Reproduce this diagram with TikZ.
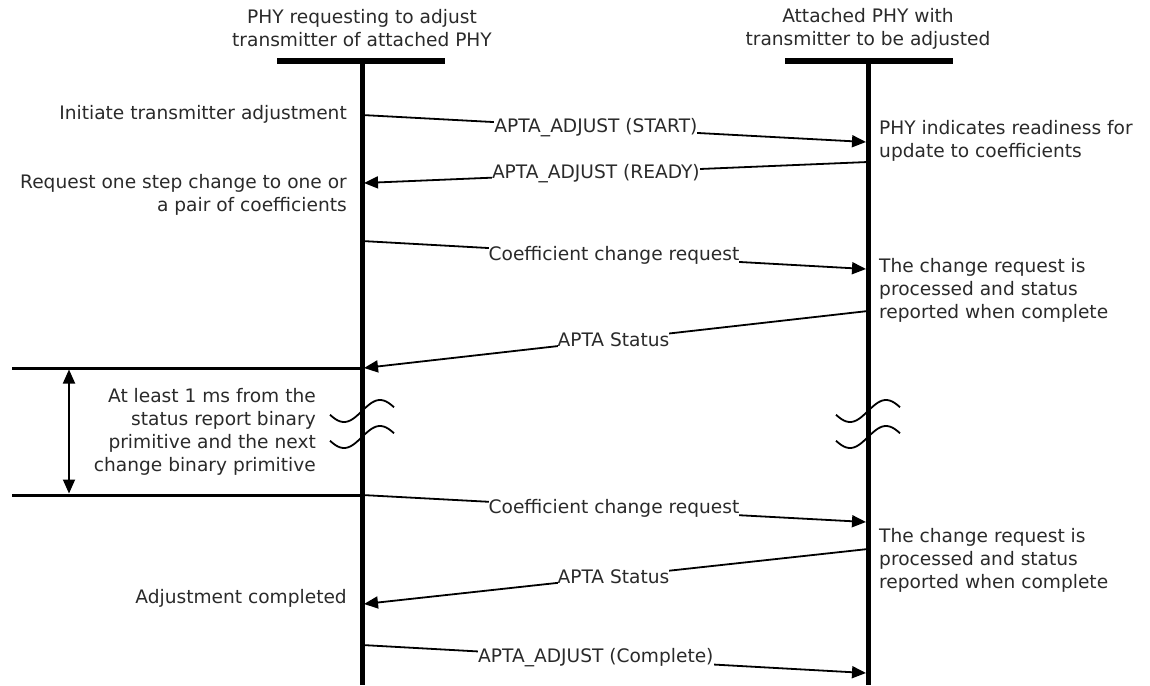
\documentclass[tikz,border=0pt]{standalone}
\usepackage{fontspec}
\setmainfont{DejaVu Sans}
\usetikzlibrary{arrows.meta}
\definecolor{txt}{HTML}{2A2A2A}
\begin{document}
\begin{tikzpicture}[x=1pt,y=-1pt,
  every node/.style={font=\fontsize{18.6}{23}\selectfont, text=txt},
  lifeline/.style={line width=5pt},
  headbar/.style={line width=6pt},
  msg/.style={line width=1.8pt, -{Triangle[length=14pt,width=12pt]}},
  lbl/.style={fill=white, inner xsep=0pt, inner ysep=1pt},
  leftnote/.style={anchor=east, align=right, inner sep=0pt},
  rightnote/.style={anchor=west, align=left, inner sep=0pt},
  brk/.style={line width=1.8pt},
  rule/.style={line width=3pt}]
\useasboundingbox (0,0) rectangle (1150,685);

% headings
\node[align=center, inner sep=0pt] (hdA) at (362,28.5) {PHY requesting to adjust\\transmitter of attached PHY};
\node[align=center, inner sep=0pt] (hdB) at (868,28.5) {Attached PHY with\\transmitter to be adjusted};

% lifelines with their head bars
\coordinate (Atop) at (362,61);
\coordinate (Abot) at (362,685);
\coordinate (Btop) at (868,61);
\coordinate (Bbot) at (868,685);
\draw[headbar] (277,61) -- (445,61);
\draw[headbar] (785,61) -- (953,61);
\draw[lifeline] (Atop) -- (Abot);
\draw[lifeline] (Btop) -- (Bbot);

% break marks on both lifelines
\foreach \cx in {362,868}{
  \foreach \cy in {411,437}{
    \draw[brk, shift={(\cx,\cy)}] plot[domain=-32:32, samples=50, smooth] (\x, {-11*sin(5*\x)});
  }
}

% message end points
\coordinate (a1) at (362,115);  \coordinate (b1) at (866,142);
\coordinate (b2) at (868,162);  \coordinate (a2) at (364,183);
\coordinate (a3) at (362,241);  \coordinate (b3) at (866,269);
\coordinate (b4) at (868,311);  \coordinate (a4) at (364,368);
\coordinate (a5) at (362,495);  \coordinate (b5) at (866,522);
\coordinate (b6) at (868,549);  \coordinate (a6) at (364,604);
\coordinate (a7) at (362,645);  \coordinate (b7) at (866,673);

% messages
\draw[msg] (a1) -- node[lbl, pos=.464] (m1) {APTA\_ADJUST (START)} (b1);
\draw[msg] (b2) -- node[lbl, pos=.54] (m2) {APTA\_ADJUST (READY)} (a2);
\draw[msg] (a3) -- node[lbl, pos=.5] (m3) {Coefficient change request} (b3);
\draw[msg] (b4) -- node[lbl, pos=.505] (m4) {APTA Status} (a4);
\draw[msg] (a5) -- node[lbl, pos=.5] (m5) {Coefficient change request} (b5);
\draw[msg] (b6) -- node[lbl, pos=.505] (m6) {APTA Status} (a6);
\draw[msg] (a7) -- node[lbl, pos=.464] (m7) {APTA\_ADJUST (Complete)} (b7);

% notes beside the requesting PHY
\node[leftnote] (nA1) at (347,114) {Initiate transmitter adjustment};
\node[leftnote] (nA2) at (347,194.5) {Request one step change to one or\\a pair of coefficients};
\node[leftnote] (nA3) at (347,598) {Adjustment completed};

% notes beside the attached PHY
\node[rightnote] (nB1) at (879,141) {PHY indicates readiness for\\update to coefficients};
\node[rightnote] (nB2) at (879,290) {The change request is\\processed and status\\reported when complete};
\node[rightnote] (nB3) at (879,560) {The change request is\\processed and status\\reported when complete};

% minimum interval between status report and next change
\coordinate (r1a) at (12,368);  \coordinate (r1b) at (362,368);
\coordinate (r2a) at (12,495);  \coordinate (r2b) at (362,495);
\draw[rule] (r1a) -- (r1b);
\draw[rule] (r2a) -- (r2b);
\coordinate (d1) at (69,369.5);
\coordinate (d2) at (69,493.5);
\draw[line width=1.8pt, {Triangle[length=14pt,width=12pt]}-{Triangle[length=14pt,width=12pt]}] (d1) -- (d2);
\node[leftnote] (gap) at (316,431.5) {At least 1 ms from the\\status report binary\\primitive and the next\\change binary primitive};
\end{tikzpicture}
\end{document}
